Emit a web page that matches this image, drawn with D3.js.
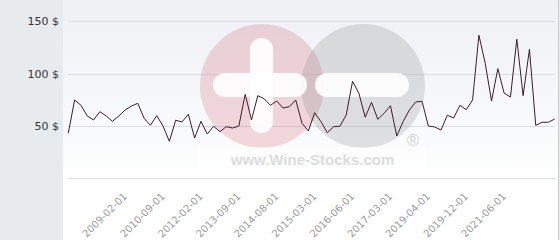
<!DOCTYPE html>
<meta charset="utf-8">
<head>
    <title>Wine price history</title>
</head>
<style>
  body {
    margin: 0;
    background: #e7ebee;
  }
  .grid line {
    stroke: #dcdde2;
    stroke-width: 1px;
    shape-rendering: crispEdges;
  }
  .yaxis text {
    font: 11px "DejaVu Sans";
    fill: #333;
  }
  .xaxis text {
    font: 10px "DejaVu Sans";
    fill: #9a9a9a;
  }
  .price {
    fill: none;
    stroke: #3b1e2b;
    stroke-width: 1px;
  }
</style>
<body>
<script src="https://cdnjs.cloudflare.com/ajax/libs/d3/7.8.5/d3.min.js"></script>
<script>
// monthly-ish price points, left to right
var prices = [43.1, 74.9, 69.8, 59.6, 55.8, 63.7, 59.6, 54.5, 59.6, 65.3,
              69.1, 71.7, 57.4, 50.7, 59.9, 50.0, 35.4, 55.5, 53.9, 61.2,
              38.6, 54.5, 42.4, 49.8, 44.6, 49.4, 48.1, 50.0, 80.3, 55.8,
              79.0, 76.1, 69.8, 73.9, 67.2, 68.5, 74.9, 52.6, 45.3, 62.7,
              54.2, 43.6, 49.4, 49.8, 60.6, 92.7, 81.3, 58.4, 72.7, 56.4,
              62.2, 69.4, 40.5, 54.2, 65.3, 73.0, 73.6, 50.0, 49.1, 46.2,
              60.3, 57.7, 69.8, 65.6, 74.9, 136.7, 109.9, 73.9, 104.8, 81.3,
              77.7, 132.9, 79.0, 123.3, 50.7, 53.6, 53.6, 56.7];

// which points carry a date label
var tickIndex = [9, 15, 21, 27, 33, 39, 45, 51, 57, 63, 69];
var tickLabels = ["2009-02-01", "2010-09-01", "2012-02-01", "2013-09-01",
                  "2014-08-01", "2015-03-01", "2016-06-01", "2017-03-01",
                  "2019-04-01", "2019-12-01", "2021-06-01"];

var yTicks = [0, 50, 100, 150];

var width = 560, height = 240;

var svg = d3.select("body").append("svg")
    .attr("width", width)
    .attr("height", height)
    .style("display", "block");

// plot panel background
var grad = svg.append("defs").append("linearGradient")
    .attr("id", "bg")
    .attr("x1", 0).attr("y1", 0).attr("x2", 0).attr("y2", 1);
grad.append("stop").attr("offset", "0%").attr("stop-color", "#eef0f4");
grad.append("stop").attr("offset", "80%").attr("stop-color", "#ffffff");

svg.append("rect")
    .attr("x", 63).attr("y", 0)
    .attr("width", 495).attr("height", height)
    .attr("fill", "url(#bg)");
svg.append("line")
    .attr("x1", 558.5).attr("x2", 558.5)
    .attr("y1", 0).attr("y2", height)
    .attr("stroke", "#c9ccd0");

var xScale = d3.scaleLinear().domain([0, prices.length - 1]).range([68.3, 554.7]);
var yScale = d3.scaleLinear().domain([0, 150]).range([178.4, 21.3]);

// gridlines
svg.append("g")
    .attr("class", "grid")
  .selectAll("line")
    .data(yTicks)
  .enter().append("line")
    .attr("x1", 67.5)
    .attr("x2", 555)
    .attr("y1", function(d) { return Math.round(yScale(d)) + 0.5; })
    .attr("y2", function(d) { return Math.round(yScale(d)) + 0.5; });

// watermark
var wm = svg.append("g");
wm.append("circle").attr("cx", 262).attr("cy", 86).attr("r", 62)
    .attr("fill", "#c8304e").attr("fill-opacity", 0.18);
wm.append("circle").attr("cx", 363).attr("cy", 86).attr("r", 62)
    .attr("fill", "#8a8a8a").attr("fill-opacity", 0.25);
wm.append("rect").attr("x", 250).attr("y", 38).attr("width", 23).attr("height", 95)
    .attr("rx", 11.5).attr("fill", "#fff").attr("fill-opacity", 0.9);
wm.append("rect").attr("x", 213).attr("y", 73).attr("width", 94).attr("height", 24)
    .attr("rx", 12).attr("fill", "#fff").attr("fill-opacity", 0.9);
wm.append("rect").attr("x", 315).attr("y", 73).attr("width", 94).attr("height", 24)
    .attr("rx", 12).attr("fill", "#fff").attr("fill-opacity", 0.9);
wm.append("rect").attr("x", 198).attr("y", 147).attr("width", 228).attr("height", 26)
    .attr("fill", "#fff").attr("fill-opacity", 0.45);
wm.append("text")
    .attr("x", 312.5).attr("y", 165)
    .attr("text-anchor", "middle")
    .style("font", "bold 15px 'Liberation Sans'")
    .attr("fill", "#dcdcdc")
    .text("www.Wine-Stocks.com");
wm.append("text")
    .attr("x", 413).attr("y", 145.5)
    .attr("text-anchor", "middle")
    .style("font", "17px 'Liberation Sans'")
    .attr("fill", "#d3d3d3")
    .text("®");

// y axis labels
var yAxis = d3.axisLeft(yScale)
    .tickValues(yTicks.filter(function(d) { return d > 0; }))
    .tickSize(0)
    .tickPadding(0)
    .tickFormat(function(d) { return d + " $"; });

svg.append("g")
    .attr("class", "yaxis")
    .attr("transform", "translate(59,0)")
    .call(yAxis)
    .call(function(g) { g.select(".domain").remove(); });

// x axis labels
var xAxis = d3.axisBottom(xScale)
    .tickValues(tickIndex)
    .tickSize(0)
    .tickFormat(function(d, i) { return tickLabels[i]; });

svg.append("g")
    .attr("class", "xaxis")
    .attr("transform", "translate(0,178)")
    .call(xAxis)
    .call(function(g) { g.select(".domain").remove(); })
  .selectAll("text")
    .attr("text-anchor", "end")
    .attr("dy", null)
    .attr("y", 0)
    .attr("transform", "translate(2,19) rotate(-45)");

// price line
var line = d3.line()
    .x(function(d, i) { return xScale(i); })
    .y(function(d) { return yScale(d); });

svg.append("path")
    .datum(prices)
    .attr("class", "price")
    .attr("d", line);
</script>
</body>
